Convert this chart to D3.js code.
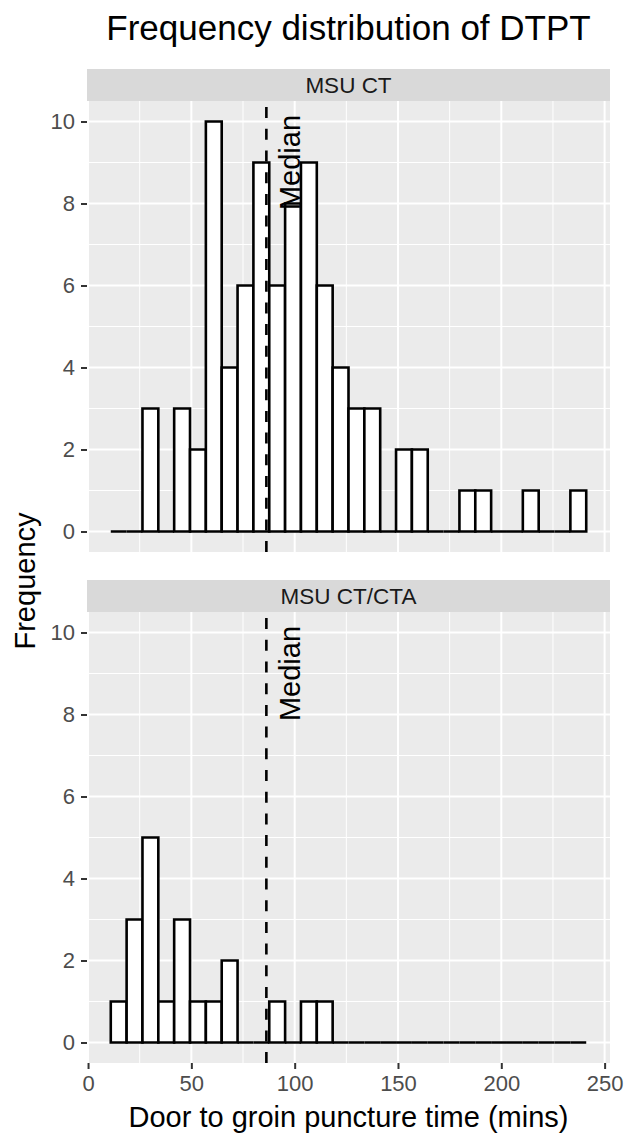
<!DOCTYPE html>
<html>
<head>
<meta charset="utf-8">
<script src="https://cdn.jsdelivr.net/npm/d3@7"></script>
<style>
  body { margin: 0; background: #fff; }
  svg text { font-family: "Liberation Sans", Arial, Helvetica, sans-serif; }
</style>
</head>
<body>
<div id="chart"></div>
<script>
// histogram data, 30 bins shared by both facets
const binStart = 11;
const binWidth = 7.67;
const ctCounts  = [0, 0, 3, 0, 3, 2, 10, 4, 6, 9, 6, 8, 9, 6, 4, 3, 3, 0, 2, 2, 0, 0, 1, 1, 0, 0, 1, 0, 0, 1];
const ctaCounts = [1, 3, 5, 1, 3, 1, 1, 2, 0, 0, 1, 0, 1, 1, 0, 0, 0, 0, 0, 0, 0, 0, 0, 0, 0, 0, 0, 0, 0, 0];
const facetNames = ["MSU CT", "MSU CT/CTA"];
const medianDTPT = 86.3;
const medianLabelX = 97.5;
const medianLabelY = 9;
const xTicks = [0, 50, 100, 150, 200, 250];
const xMinor = [25, 75, 125, 175, 225];
const yTicks = [0, 2, 4, 6, 8, 10];
const yMinor = [1, 3, 5, 7, 9];

const width = 626, height = 1140;
const panelLeft = 87, panelRight = 610;
const stripH = 32;
const panelTops = [101, 612];
const panelH = 451;

const svg = d3.select("#chart").append("svg")
    .attr("width", width)
    .attr("height", height);

const nBins = ctCounts.length;
const binEnd = binStart + binWidth * nBins;
const pad = (binEnd - binStart) * 0.05;

const x = d3.scaleLinear()
    .domain([binStart - pad, binEnd + pad])
    .range([panelLeft, panelRight]);

const facetData = [ctCounts, ctaCounts];

facetData.forEach((counts, fi) => {
    const top = panelTops[fi];
    const y = d3.scaleLinear()
        .domain([-0.5, 10.5])
        .range([top + panelH, top]);

    const g = svg.append("g");

    // strip
    g.append("rect")
        .attr("x", panelLeft).attr("y", top - stripH)
        .attr("width", panelRight - panelLeft).attr("height", stripH)
        .attr("fill", "#d9d9d9");
    g.append("text")
        .attr("x", (panelLeft + panelRight) / 2)
        .attr("y", top - stripH / 2)
        .attr("dy", "0.35em")
        .attr("text-anchor", "middle")
        .attr("font-size", 22.5)
        .attr("fill", "#1a1a1a")
        .text(facetNames[fi]);

    // panel background
    g.append("rect")
        .attr("x", panelLeft).attr("y", top)
        .attr("width", panelRight - panelLeft).attr("height", panelH)
        .attr("fill", "#ebebeb");

    // minor grid
    g.selectAll(".xminor").data(xMinor).enter().append("line")
        .attr("x1", d => x(d)).attr("x2", d => x(d))
        .attr("y1", top).attr("y2", top + panelH)
        .attr("stroke", "#fff").attr("stroke-width", 1);
    g.selectAll(".yminor").data(yMinor).enter().append("line")
        .attr("x1", panelLeft).attr("x2", panelRight)
        .attr("y1", d => y(d)).attr("y2", d => y(d))
        .attr("stroke", "#fff").attr("stroke-width", 1);
    // major grid
    g.selectAll(".xmajor").data(xTicks).enter().append("line")
        .attr("x1", d => x(d)).attr("x2", d => x(d))
        .attr("y1", top).attr("y2", top + panelH)
        .attr("stroke", "#fff").attr("stroke-width", 2);
    g.selectAll(".ymajor").data(yTicks).enter().append("line")
        .attr("x1", panelLeft).attr("x2", panelRight)
        .attr("y1", d => y(d)).attr("y2", d => y(d))
        .attr("stroke", "#fff").attr("stroke-width", 2);

    // bars as paths so empty bins still show as the flat baseline
    g.selectAll(".bar").data(counts).enter().append("path")
        .attr("d", (d, i) => {
            const x0 = x(binStart + i * binWidth), x1 = x(binStart + (i + 1) * binWidth);
            return `M${x0},${y(0)}V${y(d)}H${x1}V${y(0)}Z`;
        })
        .attr("fill", "#fff")
        .attr("stroke", "#000")
        .attr("stroke-width", 2.6)
        .attr("stroke-linejoin", "miter");

    // median line
    g.append("line")
        .attr("x1", x(medianDTPT)).attr("x2", x(medianDTPT))
        .attr("y1", top).attr("y2", top + panelH)
        .attr("stroke", "#000")
        .attr("stroke-width", 2.6)
        .attr("stroke-dasharray", "11,10.7")
        .attr("stroke-dashoffset", 15.6);

    g.append("text")
        .attr("transform", `translate(${x(medianLabelX)},${y(medianLabelY)}) rotate(-90)`)
        .attr("text-anchor", "middle")
        .attr("dy", "0.35em")
        .attr("font-size", 29)
        .attr("fill", "#000")
        .text("Median");

    // y axis
    const yAxis = d3.axisLeft(y).tickValues(yTicks).tickSize(6).tickPadding(6);
    const ya = g.append("g")
        .attr("transform", `translate(${panelLeft},0)`)
        .call(yAxis);
    ya.select(".domain").remove();
    ya.selectAll(".tick line").attr("stroke", "#333").attr("stroke-width", 2);
    ya.selectAll(".tick text")
        .attr("font-size", 22)
        .attr("fill", "#4d4d4d");

    if (fi === facetData.length - 1) {
        const xAxis = d3.axisBottom(x).tickValues(xTicks).tickSize(6).tickPadding(6);
        const xa = g.append("g")
            .attr("transform", `translate(0,${top + panelH})`)
            .call(xAxis);
        xa.select(".domain").remove();
        xa.selectAll(".tick line").attr("stroke", "#333").attr("stroke-width", 2);
        xa.selectAll(".tick text")
            .attr("font-size", 22)
            .attr("fill", "#4d4d4d");
    }
});

// titles
svg.append("text")
    .attr("x", (panelLeft + panelRight) / 2)
    .attr("y", 40)
    .attr("text-anchor", "middle")
    .attr("font-size", 35)
    .attr("fill", "#000")
    .text("Frequency distribution of DTPT");

svg.append("text")
    .attr("x", (panelLeft + panelRight) / 2)
    .attr("y", 1127)
    .attr("text-anchor", "middle")
    .attr("font-size", 29)
    .attr("fill", "#000")
    .text("Door to groin puncture time (mins)");

svg.append("text")
    .attr("transform", `translate(35,581) rotate(-90)`)
    .attr("text-anchor", "middle")
    .attr("font-size", 29)
    .attr("fill", "#000")
    .text("Frequency");
</script>
</body>
</html>
